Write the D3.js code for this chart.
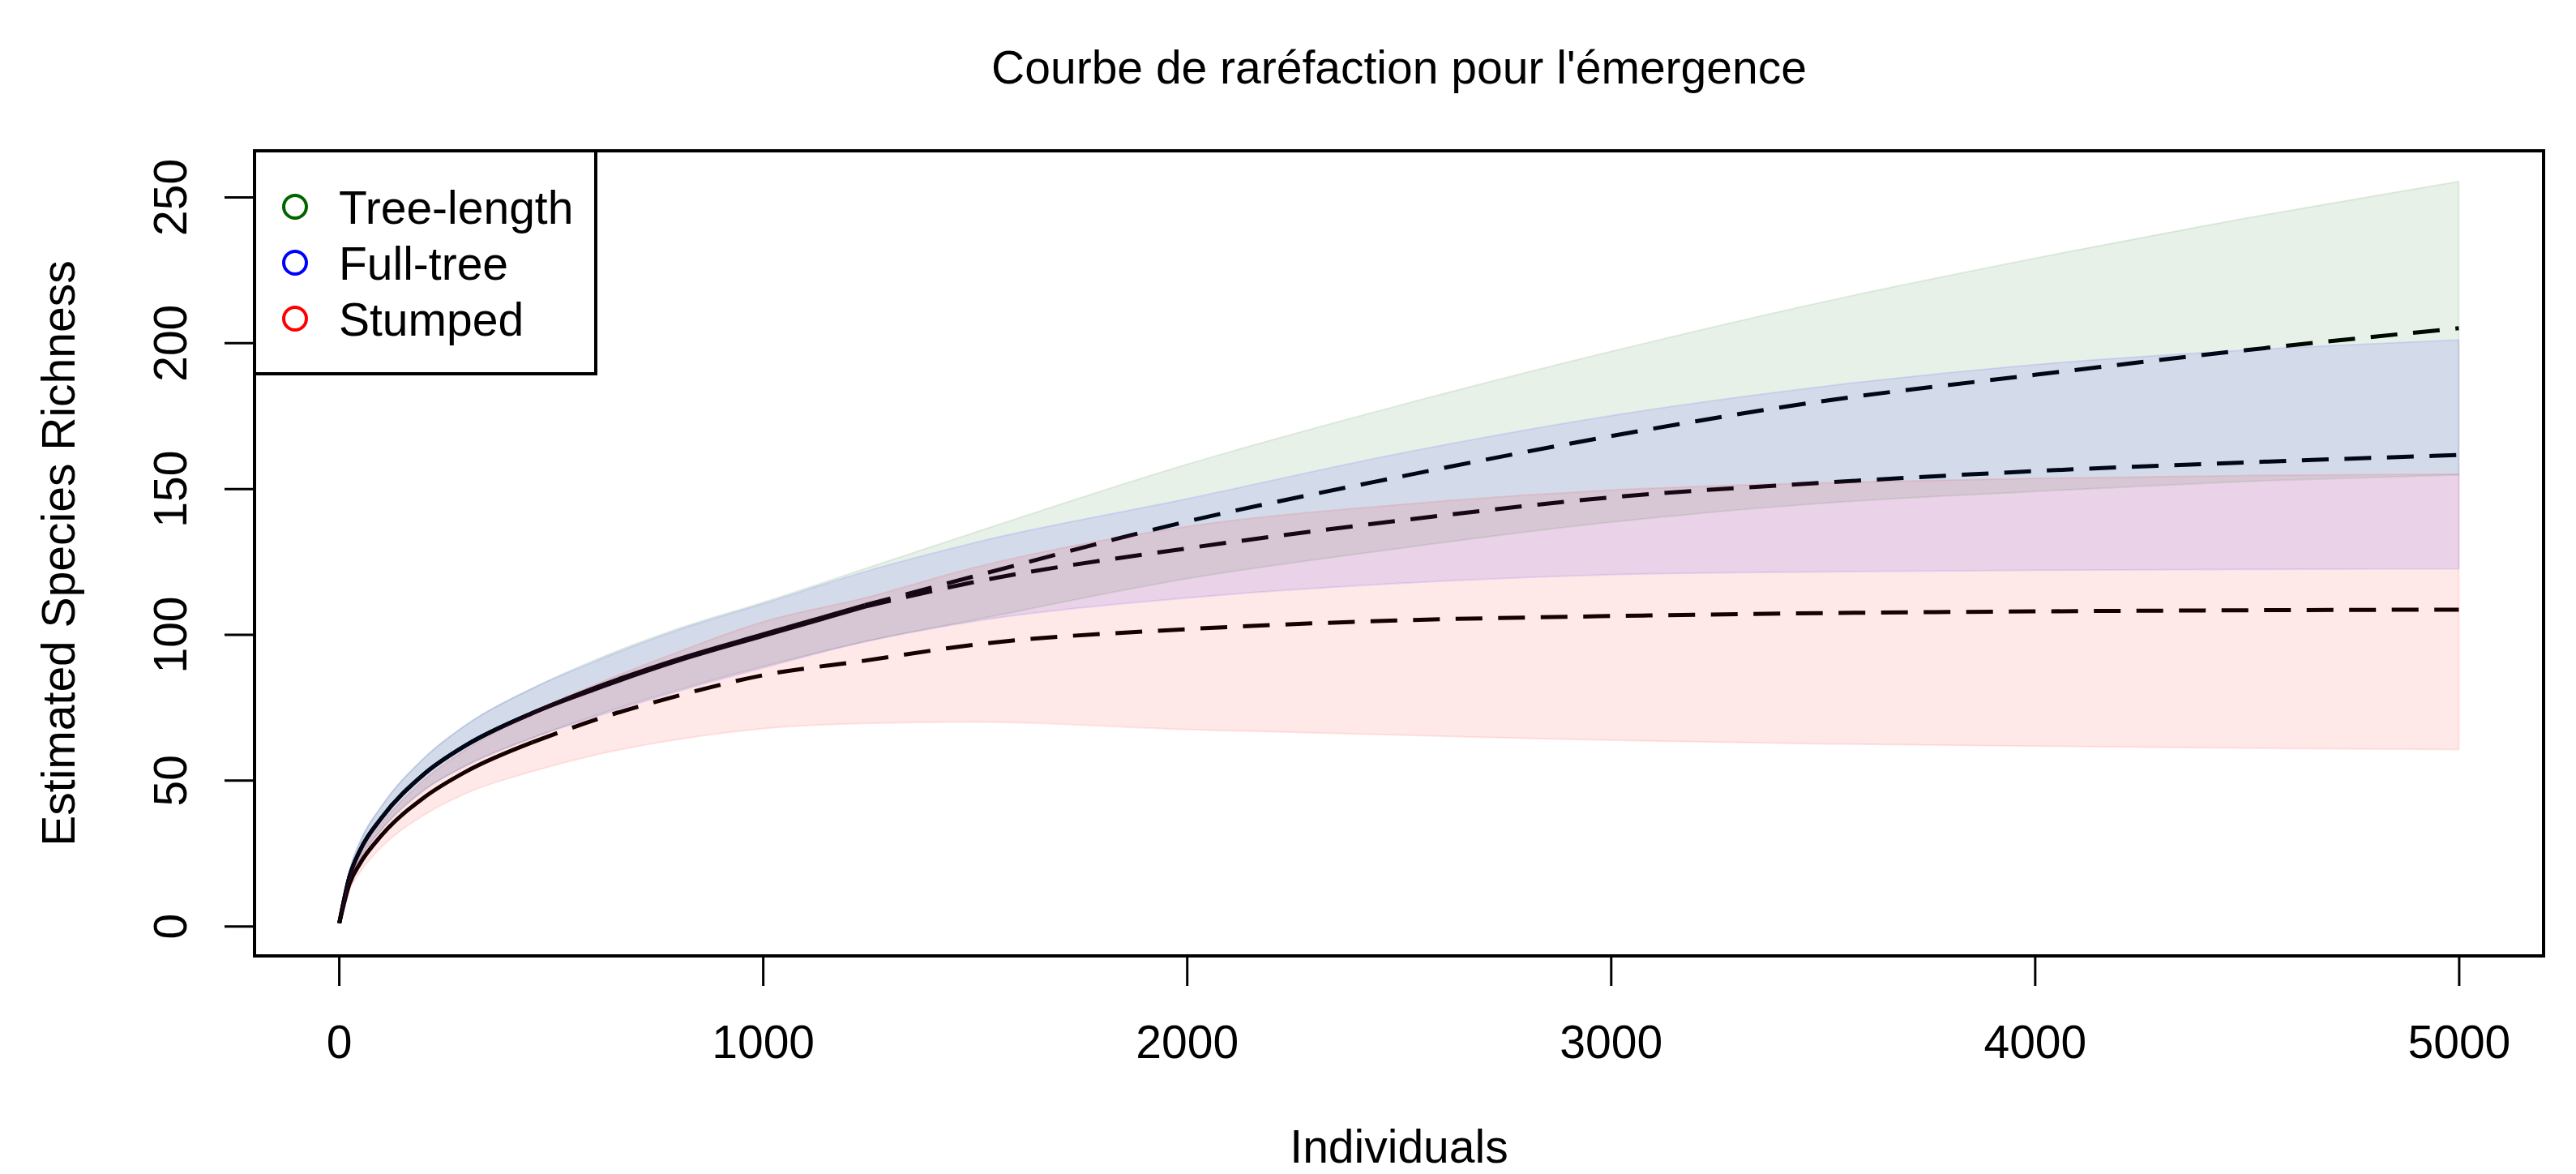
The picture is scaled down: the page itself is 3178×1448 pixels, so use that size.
<!DOCTYPE html>
<html>
<head>
<meta charset="utf-8">
<title>Courbe de raréfaction pour l'émergence</title>
<script src="https://cdn.jsdelivr.net/npm/d3@7"></script>
<style>
  html, body { margin: 0; padding: 0; background: #fff; }
  svg text { font-family: "Liberation Sans", Arial, Helvetica, sans-serif; fill: #000; }
</style>
</head>
<body>
<div id="chart"></div>
<script>
// tailles d'échantillon (individus) communes aux trois courbes
var sampleSizes = [1, 25, 50, 100, 200, 300, 456, 600, 800, 1000, 1240, 1500, 2000, 2500, 3000, 3500, 4000, 4500, 5000];

// Tree-length
var treeMean = [1, 17, 26, 37, 52, 62, 73, 81.5, 91.5, 100, 110, 120, 138.7, 154, 168, 180, 189, 197.5, 205];
var treeLow  = [1, 15, 23, 33, 46.5, 55, 64.5, 72, 81, 89, 97.5, 105, 119.1, 129.5, 138.5, 145, 149, 152.5, 154.7];
var treeHigh = [1, 19, 29, 41, 57.5, 69, 81.5, 91, 102, 111, 122.5, 135, 158.3, 178.5, 197, 214, 229, 242.8, 255.3];

// Full-tree
var fullMean = [1, 17, 26, 37, 52, 62, 73, 81, 91, 99.5, 109.5, 118, 129.5, 139, 147, 152, 156, 159, 161.5];
var fullLow  = [1, 15, 23, 33, 46.5, 55, 64.5, 71.5, 80.5, 88.5, 97.5, 104.5, 112.5, 117.5, 120.5, 121.5, 122, 122.3, 122.5];
var fullHigh = [1, 19, 29, 41, 57.5, 69, 81.5, 90.5, 101.5, 110.5, 121.5, 131.5, 146.5, 162, 175, 185, 192.5, 197.5, 201];

// Stumped
var stumpMean = [1, 14.5, 21.5, 31, 44, 53, 63, 70.5, 79, 86, 91, 96.5, 101.8, 104.8, 106.3, 107.3, 107.9, 108.3, 108.5];
var stumpLow  = [1, 12.5, 18.5, 27, 38, 45.5, 53, 58.5, 64, 67.7, 69.5, 70, 67.4, 65.5, 63.7, 62.5, 61.7, 61, 60.5];
var stumpHigh = [1, 16.5, 24.5, 35, 50, 60.5, 73, 82.5, 94, 104.3, 112.5, 123, 137, 144.5, 149.5, 152, 153.5, 154.5, 155];

var seriesNames = ["Tree-length", "Full-tree", "Stumped"];
var seriesColors = ["#006400", "#0000ff", "#ff0000"];
var observedN = [1240, 1240, 456];

var xTicks = [0, 1000, 2000, 3000, 4000, 5000];
var yTicks = [0, 50, 100, 150, 200, 250];

paintRarefaction();

function paintRarefaction() {
	var width = 3178,
		height = 1448;
	var left = 314, right = 3138, top = 186, bottom = 1179;

	var svg = d3.select("#chart").append("svg")
		.attr("width", width)
		.attr("height", height);

	// domaines élargis de 4 % comme dans R
	var x = d3.scaleLinear().domain([-198.96, 5199.96]).range([left, right]);
	var y = d3.scaleLinear().domain([-10.22, 265.82]).range([bottom, top]);

	var means = [treeMean, fullMean, stumpMean],
		lows = [treeLow, fullLow, stumpLow],
		highs = [treeHigh, fullHigh, stumpHigh];

	var series = seriesNames.map(function(name, i) {
		return {
			name: name,
			color: seriesColors[i],
			obs: observedN[i],
			points: sampleSizes.map(function(n, j) {
				return { n: n, mean: means[i][j], low: lows[i][j], high: highs[i][j] };
			})
		};
	});

	var line = d3.line()
		.x(function(d) { return x(d.n); })
		.y(function(d) { return y(d.mean); })
		.curve(d3.curveMonotoneX);

	var area = d3.area()
		.x(function(d) { return x(d.n); })
		.y0(function(d) { return y(d.low); })
		.y1(function(d) { return y(d.high); })
		.curve(d3.curveMonotoneX);

	// courbes : raréfaction (trait plein) puis extrapolation (tirets)
	series.forEach(function(s) {
		var rare = s.points.filter(function(d) { return d.n <= s.obs; });
		var extra = s.points.filter(function(d) { return d.n >= s.obs; });
		svg.append("path")
			.attr("d", line(rare))
			.attr("fill", "none")
			.attr("stroke", "#000")
			.attr("stroke-width", 5);
		svg.append("path")
			.attr("d", line(extra))
			.attr("fill", "none")
			.attr("stroke", "#000")
			.attr("stroke-width", 5)
			.attr("stroke-dasharray", "33,19.5");
	});

	// intervalles de confiance, transparents, par-dessus
	series.forEach(function(s) {
		var c = d3.color(s.color);
		c.opacity = 0.09;
		svg.append("path")
			.attr("d", area(s.points))
			.attr("fill", c.toString())
			.attr("stroke", c.toString())
			.attr("stroke-width", 2);
	});

	// axe x
	var xAxis = svg.append("g")
		.attr("transform", "translate(0," + bottom + ")")
		.call(d3.axisBottom(x).tickValues(xTicks).tickSize(37).tickPadding(0).tickFormat(d3.format("d")));
	xAxis.select(".domain").remove();
	xAxis.selectAll(".tick line").attr("stroke", "#000").attr("stroke-width", 3);
	xAxis.selectAll(".tick text")
		.attr("y", 126)
		.attr("dy", 0)
		.style("font-size", "57px")
		.style("font-family", "'Liberation Sans', Arial, sans-serif");

	// axe y, étiquettes verticales
	var yAxis = svg.append("g")
		.attr("transform", "translate(" + left + ",0)")
		.call(d3.axisLeft(y).tickValues(yTicks).tickSize(37).tickFormat(d3.format("d")));
	yAxis.select(".domain").remove();
	yAxis.selectAll(".tick line").attr("stroke", "#000").attr("stroke-width", 3);
	yAxis.selectAll(".tick text")
		.attr("transform", "rotate(-90)")
		.attr("x", 0)
		.attr("y", -84)
		.attr("dy", 0)
		.attr("text-anchor", "middle")
		.style("font-size", "57px")
		.style("font-family", "'Liberation Sans', Arial, sans-serif");

	// cadre
	svg.append("rect")
		.attr("x", left)
		.attr("y", top)
		.attr("width", right - left)
		.attr("height", bottom - top)
		.attr("fill", "none")
		.attr("stroke", "#000")
		.attr("stroke-width", 4);

	// titres
	svg.append("text")
		.attr("x", (left + right) / 2)
		.attr("y", 103)
		.attr("text-anchor", "middle")
		.style("font-size", "57px")
		.text("Courbe de raréfaction pour l'émergence");

	svg.append("text")
		.attr("x", (left + right) / 2)
		.attr("y", 1434)
		.attr("text-anchor", "middle")
		.style("font-size", "57px")
		.text("Individuals");

	svg.append("text")
		.attr("transform", "translate(92," + (top + bottom) / 2 + ") rotate(-90)")
		.attr("text-anchor", "middle")
		.style("font-size", "57px")
		.text("Estimated Species Richness");

	// légende
	var legend = svg.append("g");
	legend.append("rect")
		.attr("x", left)
		.attr("y", top)
		.attr("width", 735 - left)
		.attr("height", 461 - top)
		.attr("fill", "#fff")
		.attr("stroke", "#000")
		.attr("stroke-width", 4);

	var item = legend.selectAll(".item")
		.data(series)
		.enter().append("g")
		.attr("class", "item")
		.attr("transform", function(d, i) { return "translate(0," + (255 + i * 69) + ")"; });

	item.append("circle")
		.attr("cx", 364)
		.attr("cy", 0)
		.attr("r", 14)
		.attr("fill", "none")
		.attr("stroke", function(d) { return d.color; })
		.attr("stroke-width", 4);

	item.append("text")
		.attr("x", 418)
		.attr("y", 21)
		.style("font-size", "57px")
		.text(function(d) { return d.name; });
}
</script>
</body>
</html>
